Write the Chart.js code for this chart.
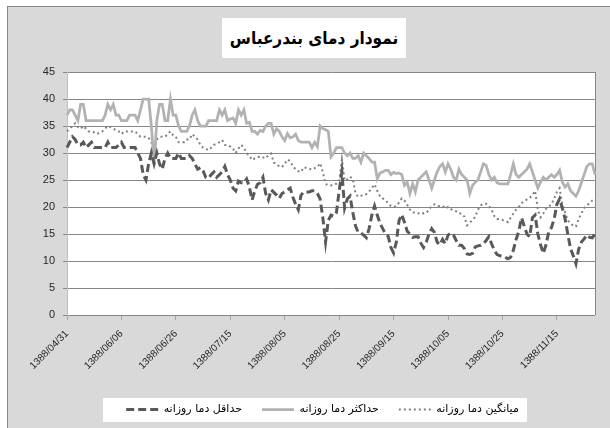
<!DOCTYPE html>
<html><head><meta charset="utf-8">
<script src="https://cdn.jsdelivr.net/npm/chart.js@4.4.0/dist/chart.umd.min.js"></script>
<style>
html,body{margin:0;padding:0;background:#fff;width:610px;height:428px;overflow:hidden;}
#frame{position:absolute;left:7px;top:6px;width:610px;height:430px;background:#d9d9d9;border-left:1px solid #868686;border-top:1px solid #868686;}
#title{position:absolute;left:222px;top:18px;width:184px;height:40px;background:#fff;font:bold 17px 'DejaVu Sans Condensed','DejaVu Sans';color:#000;text-align:center;line-height:40px;direction:rtl;white-space:nowrap;overflow:hidden;}
#wrap{position:absolute;left:0;top:0;width:610px;height:428px;}
</style></head><body>
<div id="frame"></div>
<div id="title">نمودار دمای بندرعباس</div>
<div id="wrap"><canvas id="c" width="610" height="428"></canvas></div>
<script>
const tickLabels = ['1388/04/31','1388/06/06','1388/06/26','1388/07/15','1388/08/05','1388/08/25','1388/09/15','1388/10/05','1388/10/25','1388/11/15'];
const labelStep = 20;
const seriesNames = ['حداقل دما روزانه','حداکثر دما روزانه','میانگین دما روزانه'];

const minTemps = [
31,32,33,32.5,31.5,31.5,32,31,31.5,32,31,31,31,31,31,32,31,31,31,31.5,
32,31,31,31,31,31,30,29,26,25,28,30,28,30,28,27,29,30,29,29,
29,30,29,29,29,29.5,29,28,27,27.3,26.7,25.5,25.3,26,26.5,25.5,26,26.5,27.5,26,
25,23.5,23,24.8,24.5,24.5,25.2,23.7,21.3,23,24.2,24.5,25.5,22.5,21.3,23.2,22.7,22.2,21.6,22.5,
22.8,23.2,23.5,21.8,20.5,19.5,22.2,22.8,22.8,22.8,23,23,22.5,21.5,18,13.5,17.5,18.5,18.3,19,
23,26.5,19.8,21.5,22,19,16.5,15.3,15.2,14.8,14.3,16,18.5,20.2,18.5,17,16,15,14.6,12.5,
11.5,13.5,17.5,18.6,17.2,15.5,15,14.4,14.5,14.5,13.3,12.5,13.5,15,16,15.3,13.5,13,14,13.2,
14.8,15.2,14.8,13.8,12.9,12.9,12.3,11.3,11.2,11.4,12.6,12.8,12.9,13.2,13.8,14.5,13.2,12,11.2,11,
10.8,10.7,10.4,10.7,12,14,15.5,18,16.5,15,14.5,18,18.5,15,13,11.4,13,15.4,16.2,17.8,
20.5,21.5,19.8,17.8,15,12.3,11,9.5,12.2,13.5,14.1,14.8,14.4,14.3,15
];
const maxTemps = [
37,38,38,37,36,39,39,36,36,36,36,36,36,36,37,39,38,39,37,37,
36,36,36,37,37,37,36,38,40,40,40,35,28,36,39,39,36,36,40,37,
37,35,34,34,34,35,37,38,36,35,35,35,36,36,36,36,38,37,38,36,
36.3,36.5,35.5,38,37,38,35.5,35.7,34,34,33.5,34.2,34,35,35.5,35.5,33.5,34.5,34,33,
32.3,33.6,32.8,33,33.5,32.3,32,32,32,32,31,32,31.2,35,34.5,34.3,34,29.3,30,31,
31,31,30,29.5,30,29,29,29.5,28.3,30,29.5,29,28.3,28.3,25.2,26.3,26.5,26.8,26.8,26,
26.4,26.2,26.3,26,24,24.6,22.5,24.3,22.8,25,25.5,26,26.5,25,23.5,25,26.5,27.5,28,26.5,
28,27,25.5,25,27,26,25.5,25,22.5,24,24.6,25,26.5,28,27.7,26,25,25.5,24.5,24.3,
24.3,24.3,24.3,26,28,26,25.5,26,26.5,27,28,26.5,25,23.5,24.6,25.5,25,25.5,26,25.5,
26,26.8,24.6,23.7,24.3,23,22.5,22,23,24.5,26,27.5,28,28,26
];
const meanTemps = [
34,34.5,35,35.5,34.8,34.5,35,34.5,34,34,33.8,33.5,33.8,34,34.5,35,34.8,34.5,34.2,34,
33.5,34,34,34,34,34,33.5,33,33,33,32.8,32,30,32.5,33,33,33,33.5,34,33.3,
33,32,32,32,32.5,32.5,33.5,33,32.5,31.5,31,30.8,30.5,31,31.5,31.8,32,32.4,31.5,31.5,
31.2,30.8,30,30.8,31.5,31,30,29.5,28.7,29,29.2,29.4,29.2,29,29.6,29.9,28.2,28,27.5,27.4,
28,28.8,28.5,27.5,27,26.6,26.5,27.4,27.2,27.1,26.9,27.2,27.4,28.1,26.5,24.3,24,24,24.2,24.3,
24.8,28.8,24.9,25.1,25.6,25.2,22.5,21.9,22.1,22.2,22.4,22.9,23.5,24.2,23,22,21.6,21.3,20.7,20.2,
20,20.2,20.8,21.6,21.2,20.4,19.5,19,19,18.8,19,18.8,18.9,19.5,20.2,20.5,20.2,20.2,20.2,19.7,
20,19.6,19.4,19.2,18.8,18.8,18.2,16.6,17.1,17.6,18.2,19.5,20.3,20.6,20.6,20.2,19.5,18.3,17.8,17.8,
17.6,17.5,17.2,18,18.8,19.5,20,20.7,21.1,21.4,21.7,22.2,23,19.5,18.1,18.8,19.7,20.1,20.5,21.6,
22.8,23.5,20.3,19,17.5,17,16.5,16.4,17.8,18.8,19.8,20.3,20.7,21.2,21.5
];

const categories = minTemps.map((_, i) => (i % labelStep === 0 && tickLabels[i / labelStep]) ? tickLabels[i / labelStep] : '');

const decor = {
  id: 'decor',
  afterLayout(chart) {
    const lg = chart.legend;
    if (lg) { lg.left += 15; lg.right += 15; }
  },
  beforeDraw(chart) {
    const {ctx, chartArea: a} = chart;
    ctx.save();
    ctx.fillStyle = '#ffffff';
    ctx.fillRect(a.left, a.top, a.right - a.left, a.bottom - a.top);
    const lg = chart.legend;
    if (lg && lg.legendHitBoxes && lg.legendHitBoxes.length) {
      const hb = lg.legendHitBoxes;
      const l = Math.min(...hb.map(h => h.left));
      const r = Math.max(...hb.map(h => h.left + h.width));
      const cy = hb[0].top + hb[0].height / 2;
      ctx.fillRect(Math.round(l - 23), Math.round(cy - 12), Math.round(r - l + 31), 24);
    }
    ctx.restore();
  },
  beforeDatasetsDraw(chart) {
    const {ctx, chartArea: a} = chart;
    ctx.save();
    ctx.strokeStyle = '#868686';
    ctx.lineWidth = 1;
    ctx.beginPath();
    ctx.moveTo(Math.round(a.right) + 0.5, a.top);
    ctx.lineTo(Math.round(a.right) + 0.5, a.bottom);
    ctx.stroke();
    ctx.restore();
  }
};

new Chart(document.getElementById('c'), {
  type: 'line',
  data: {
    labels: categories,
    datasets: [
      { label: seriesNames[0], data: minTemps, borderColor: '#595959', backgroundColor: '#595959', borderWidth: 3, borderDash: [8, 4], pointRadius: 0, tension: 0, fill: false },
      { label: seriesNames[1], data: maxTemps, borderColor: '#b2b2b2', backgroundColor: '#b2b2b2', borderWidth: 2.75, pointRadius: 0, tension: 0, fill: false },
      { label: seriesNames[2], data: meanTemps, borderColor: '#808080', backgroundColor: '#808080', borderWidth: 2, borderDash: [2, 3], pointRadius: 0, tension: 0, fill: false }
    ]
  },
  options: {
    responsive: false,
    animation: false,
    layout: { padding: { left: 20, right: 15, top: 72, bottom: 3 } },
    plugins: {
      title: { display: false },
      tooltip: { enabled: false },
      legend: {
        position: 'bottom',
        labels: {
          usePointStyle: true,
          pointStyle: 'line',
          pointStyleWidth: 32,
          padding: 20,
          color: '#000',
          font: { family: "'DejaVu Sans'", size: 11 },
          generateLabels(chart) {
            const items = Chart.defaults.plugins.legend.labels.generateLabels(chart);
            items.forEach(it => {
              const ds = chart.data.datasets[it.datasetIndex];
              it.lineDash = ds.borderDash || [];
              it.lineWidth = ds.borderWidth;
              it.strokeStyle = ds.borderColor;
              it.fillStyle = ds.borderColor;
              it.pointStyle = 'line';
            });
            return items;
          }
        }
      }
    },
    scales: {
      x: {
        type: 'category',
        afterFit(scale) { scale.height = 69; },
        grid: { drawOnChartArea: false, drawTicks: true, tickLength: 5, color: '#a6a6a6' },
        border: { display: false },
        ticks: {
          autoSkip: false,
          minRotation: 45,
          maxRotation: 45,
          padding: 8,
          color: '#262626',
          font: { family: "'Liberation Sans'", size: 10 },
          callback(value) { const l = this.getLabelForValue(value); return l ? l : null; }
        }
      },
      y: {
        min: 0, max: 45,
        afterFit(scale) { scale.width = 47; },
        grid: { color: '#868686', tickLength: 4, lineWidth: 1 },
        border: { display: true, color: '#c0c0c0', width: 1 },
        ticks: { stepSize: 5, padding: 8, color: '#262626', font: { family: "'Liberation Sans'", size: 11 } }
      }
    }
  },
  plugins: [decor]
});
</script>
</body></html>
